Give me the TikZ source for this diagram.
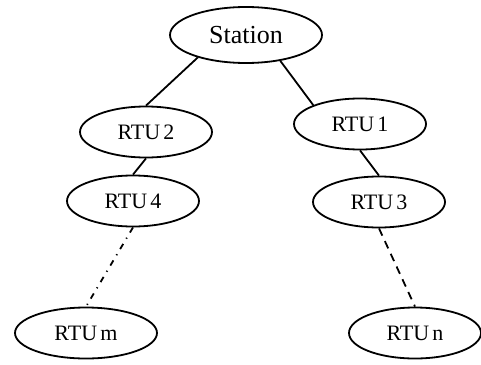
\documentclass[tikz,border=0pt]{standalone}
\usepackage{fontspec}
\setmainfont{Liberation Serif}
\usetikzlibrary{shapes.geometric}
\tikzstyle{every node}=[draw=black,line width=0.9pt,ellipse,inner sep=0pt]
\tikzstyle{rtu}=[minimum width=66pt,minimum height=25.5pt,font=\fontsize{11}{13}\selectfont]
\tikzstyle{link}=[line width=0.9pt]

\begin{document}
\begin{tikzpicture}[x=0.5pt, y=-0.5pt]
\useasboundingbox (0,0) rectangle (481,364);
%nodes
\node[minimum width=76pt,minimum height=28pt,font=\fontsize{13}{15}\selectfont] (station) at (246,35) {Station};
\node[rtu] (rtu2) at (146,132) {RTU\kern0.15em2};
\node[rtu] (rtu4) at (133,201) {RTU\kern0.15em4};
\node[rtu,minimum width=71pt] (rtum) at (86,333) {RTU\kern0.15em m};
\node[rtu] (rtu1) at (360,124) {RTU\kern0.15em1};
\node[rtu] (rtu3) at (379,202) {RTU\kern0.15em3};
\node[rtu] (rtun) at (415,333) {RTU\kern0.15em n};
%links
\draw[link] (station.205) -- (rtu2.north);
\draw[link] (station.-37) -- (rtu1.158);
\draw[link] (rtu2.south) -- (rtu4.north);
\draw[link] (rtu1.south) -- (rtu3.north);
\draw[link, dash pattern=on 3pt off 3pt on 0.6pt off 3pt] (rtu4.south) -- (rtum.north);
\draw[link, dash pattern=on 4pt off 3pt] (rtu3.south) -- (rtun.north);
\end{tikzpicture}
\end{document}
